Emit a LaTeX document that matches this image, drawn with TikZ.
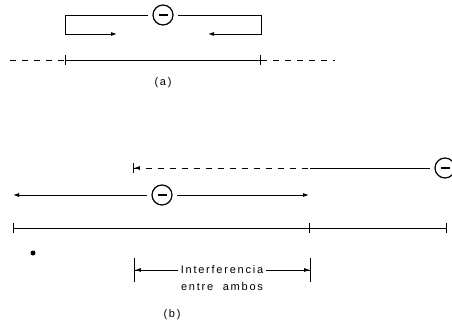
\documentclass[tikz,border=0pt]{standalone}
\usepackage{fontspec}
\newfontfamily\lettering[LetterSpace=16]{Liberation Sans}
\usetikzlibrary{arrows.meta}

\begin{document}
\begin{tikzpicture}[x=1pt,y=-1pt,line width=0.9pt,>={Latex[length=6pt,width=4pt]},
  electron/.style={circle,draw,line width=1.2pt,inner sep=0pt,minimum size=20pt,outer sep=5pt,
    path picture={\draw[line width=1.6pt] ([xshift=-4.5pt]path picture bounding box.center)
      -- ([xshift=4.5pt]path picture bounding box.center);}},
  tag/.style={font=\lettering\fontsize{11}{13}\selectfont,inner sep=2pt},
  tick/.style={arrows={Bar[width=10pt]-Bar[width=10pt]}},
  endtick/.style={arrows={-Bar[width=10pt]}},
  gap/.style={dash pattern=on 6pt off 6pt}]

  \useasboundingbox (0,0) rectangle (452,331);
  \clip (0,0) rectangle (452,331);

  % (a)
  \node[electron] (ea) at (163,15) {};
  \coordinate (tl) at (65,15);  \coordinate (bl) at (65,34);  \coordinate (al) at (117,34);
  \coordinate (tr) at (261,15); \coordinate (br) at (261,34); \coordinate (ar) at (208,34);
  \draw[->] (ea) -- (tl) -- (bl) -- (al);
  \draw[->] (ea) -- (tr) -- (br) -- (ar);

  \coordinate (a0) at (10,60);  \coordinate (a1) at (65,60);
  \coordinate (a2) at (261,60); \coordinate (a3) at (335,60);
  \draw[gap] (a0) -- (a1);
  \draw[tick] (a1) -- (a2);
  \draw[gap] (a2) -- (a3);
  \node[tag] (la) at (163,83) {(a)};

  % (b)
  \node[electron] (eb) at (445,168) {};
  \coordinate (d0) at (133,168); \coordinate (d1) at (310,168);
  \draw[gap,arrows={Bar[width=10pt]Latex[length=6pt,width=4pt]-}] (d0) -- (d1);
  \draw (d1) -- (eb);

  \node[electron] (ec) at (162,195) {};
  \coordinate (cl) at (13,195); \coordinate (cr) at (309,195);
  \draw[->] (ec) -- (cl);
  \draw[->] (ec) -- (cr);

  \coordinate (b0) at (13,228); \coordinate (b1) at (310,228); \coordinate (b2) at (447,228);
  \draw[tick] (b0) -- (b1);
  \draw[endtick] (b1) -- (b2);

  \fill (33,253) circle (2.5pt);

  \node[tag] (int) at (222,270) {Interferencia};
  \node[tag] (amb) at (222,287) {entre\ \ ambos};
  \coordinate (il) at (134,270); \coordinate (ir) at (311,270);
  \draw[arrows={Bar[width=24pt]Latex[length=6pt,width=4pt]-}] (il) -- (int);
  \draw[arrows={Bar[width=24pt]Latex[length=6pt,width=4pt]-}] (ir) -- (int);
  \node[tag] (lb) at (172,315) {(b)};
\end{tikzpicture}
\end{document}
